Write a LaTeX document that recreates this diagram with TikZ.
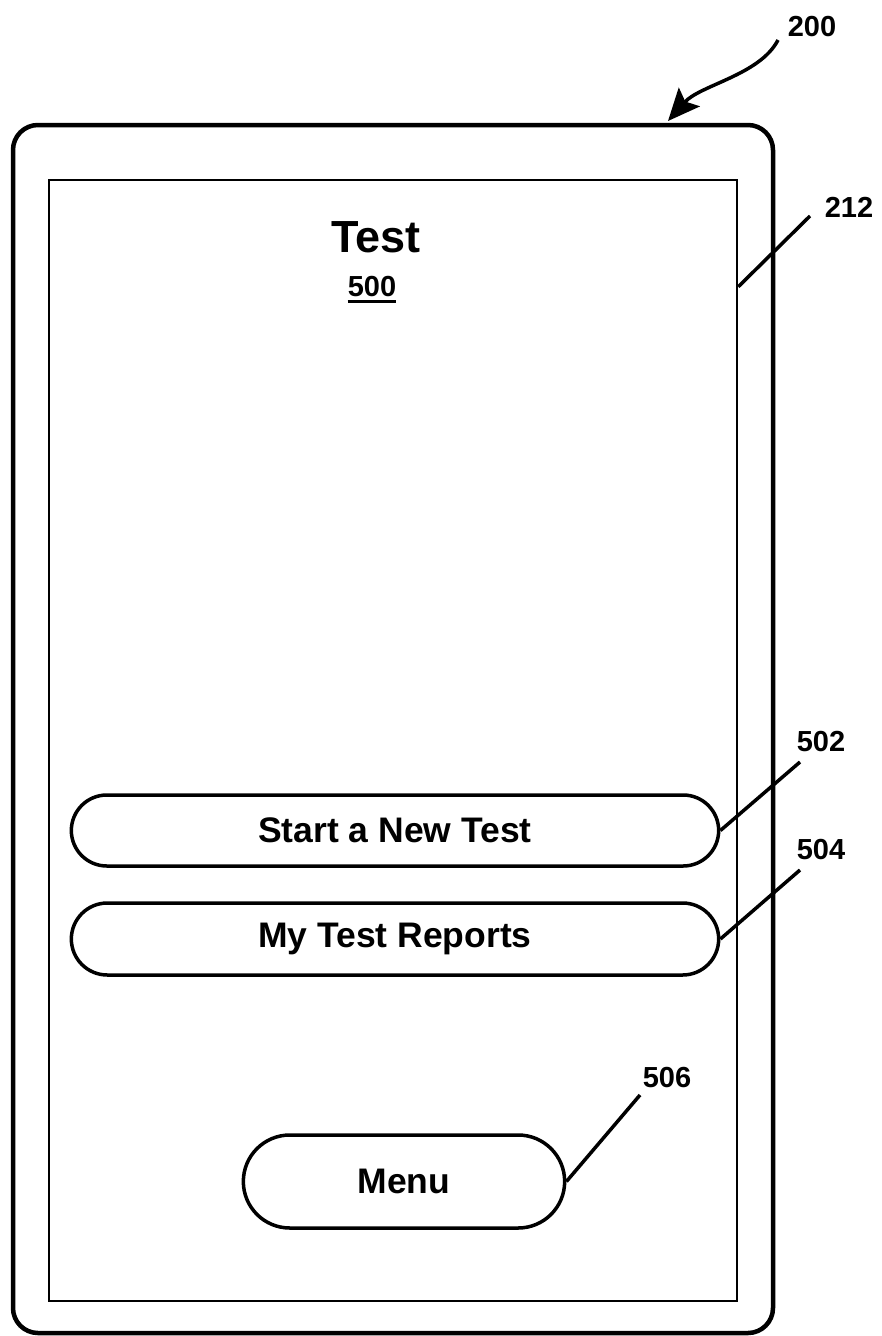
\documentclass[tikz,border=0pt]{standalone}
\usepackage{fontspec}
\setmainfont{Liberation Sans}
\usetikzlibrary{arrows.meta,shapes.misc}

\begin{document}
\begin{tikzpicture}[x=1pt, y=-1pt,
  btn/.style = {draw, line width=3.5pt, rounded rectangle, font=\fontsize{35.5}{35.5}\selectfont\bfseries},
  lbl/.style = {inner sep=0pt, font=\fontsize{29}{29}\selectfont\bfseries},
  lead/.style = {line width=3.5pt}]
\useasboundingbox (0,0) rectangle (882,1336);
\node[draw, line width=4.5pt, rounded corners=25pt, minimum width=760pt, minimum height=1208pt] (device) at (393,729) {};
\node[draw, line width=2.5pt, minimum width=688pt, minimum height=1121pt] (screen) at (393,740.5) {};
\node[font=\fontsize{45}{45}\selectfont\bfseries] (title) at (376,237) {Test};
\node[lbl] (n500) at (372,287) {500};
\draw[line width=2.5pt] ([yshift=-4pt]n500.south west) -- ([yshift=-4pt]n500.south east);
\node[btn, minimum width=654pt, minimum height=71pt] (start) at (395,830.5) {Start a New Test};
\node[btn, minimum width=654pt, minimum height=72pt] (reports) at (395,939) {My Test Reports};
\node[btn, minimum width=328pt, minimum height=93pt] (menu) at (404,1181.5) {Menu};
\node[lbl] (n200) at (812,27) {200};
\node[lbl] (n212) at (849,207) {212};
\node[lbl] (n502) at (821,742) {502};
\node[lbl] (n504) at (821,850) {504};
\node[lbl] (n506) at (667,1078) {506};
\coordinate (s200) at (778,40);
\coordinate (t200) at (668,121);
\coordinate (t212) at (810,216);
\coordinate (t502) at (800,762);
\coordinate (t504) at (800,870);
\coordinate (t506) at (640,1095);
\draw[lead, -{Stealth[length=32pt, width=28pt, inset=6pt]}] (s200) .. controls (760,75) and (700,85) .. (t200);
\draw[lead] (screen.north east) ++(0,108) -- (t212);
\draw[lead] (start.east) -- (t502);
\draw[lead] (reports.east) -- (t504);
\draw[lead] (menu.east) -- (t506);
\end{tikzpicture}
\end{document}
